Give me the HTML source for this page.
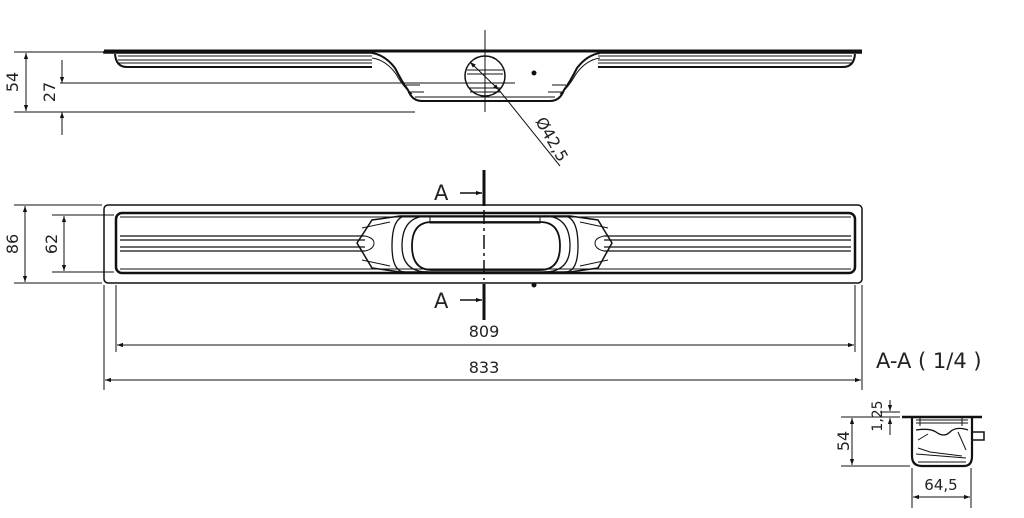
<!DOCTYPE html>
<html><head><meta charset="utf-8"><style>
html,body{margin:0;padding:0;background:#fff;}
svg{display:block;}
text{font-family:"DejaVu Sans","Liberation Sans",sans-serif;fill:#222;}
</style></head><body>
<svg width="1024" height="518" viewBox="0 0 1024 518" xmlns="http://www.w3.org/2000/svg">
<defs>
<marker id="ar" viewBox="0 0 10 10" refX="10" refY="5" markerWidth="8" markerHeight="6" orient="auto-start-reverse" markerUnits="userSpaceOnUse"><path d="M0,1.5 L10,5 L0,8.5 Z" fill="#111"/></marker>
</defs>
<g fill="none" stroke="#111" stroke-width="1">
<!-- side elevation -->
<path d="M104,51 L862,51" stroke-width="3"/>
<path d="M104,51 L104,53 L372,53 M600,53 L862,53" stroke-width="1.5"/>
<path d="M115,54 Q116,67 127,67 L372,67" stroke-width="2"/>
<path d="M118,56 L372,56 M118,60 L372,60 M118,63 L372,63"/>
<path d="M855,54 Q854,67 843,67 L598,67" stroke-width="2"/>
<path d="M852,56 L598,56 M852,60 L598,60 M852,63 L598,63"/>
<path d="M372,53 Q385,55 395,68 Q402,82 408,90 Q412,101 422,101 L550,101 Q560,101 564,90 Q570,82 577,68 Q587,55 600,53" stroke-width="2"/>
<path d="M372,58 Q386,60 396,74 Q404,88 412,94 M600,58 Q586,60 576,74 Q568,88 560,94"/>
<path d="M410,92 L424,92 M406,85 L420,85 M562,92 L548,92 M566,85 L552,85 M415,97 L555,97"/>
<circle cx="485" cy="76" r="20" stroke-width="1.5"/>
<path d="M467,70 L503,70 M467,74 L503,74 M469,88 L501,88 M470,92 L500,92"/>
<circle cx="534" cy="73" r="2" fill="#111"/>
<path d="M485,30 L485,112"/>
<!-- dims side -->
<path d="M14,52 L110,52 M14,112 L415,112 M60,83 L515,83"/>
<path d="M26,53 L26,111" marker-start="url(#ar)" marker-end="url(#ar)"/>
<path d="M62,60 L62,83" marker-end="url(#ar)"/>
<path d="M62,135 L62,112" marker-end="url(#ar)"/>
<path d="M470,62 L499,90" marker-start="url(#ar)" marker-end="url(#ar)"/>
<path d="M499,90 L560,166"/>
<!-- plan view -->
<rect x="104" y="205" width="758" height="78" rx="4" stroke-width="1.5"/>
<rect x="116" y="213" width="739" height="60" rx="6" stroke-width="2.5"/>
<path d="M120,217 L851,217 M120,269 L851,269"/>
<path d="M120,236 L365,236 M120,240 L365,240 M120,247 L365,247 M120,251 L365,251" stroke-width="1.3"/>
<path d="M604,236 L851,236 M604,240 L851,240 M604,247 L851,247 M604,251 L851,251" stroke-width="1.3"/>
<path d="M365,236 Q374,238 374,243 Q374,249 365,251 M604,236 Q595,238 595,243 Q595,249 604,251"/>
<path d="M357,243 L372,220 L400,216 L570,216 L598,220 L612,243 L598,268 L570,272 L400,272 L372,268 Z" stroke-width="1.5"/>
<path d="M412,246 Q412,222 432,222 L540,222 Q560,222 560,246 Q560,270 540,270 L432,270 Q412,270 412,246 Z" stroke-width="1.8"/>
<path d="M402,246 Q402,216 428,216 M402,246 Q402,272 428,272 M570,246 Q570,216 544,216 M570,246 Q570,272 544,272" stroke-width="1.3"/>
<path d="M392,246 Q392,218 405,216 M392,246 Q392,272 405,272 M578,246 Q578,218 565,216 M578,246 Q578,272 565,272" stroke-width="1.3"/>
<path d="M362,228 L390,222 M362,260 L390,266 M608,228 L580,222 M608,260 L580,266"/>
<path d="M430,216 L430,223 L540,223 L540,216"/>
<circle cx="534" cy="285" r="2" fill="#111"/>
<path d="M484,170 L484,206 M484,284 L484,320" stroke-width="3"/>
<path d="M484,210 L484,280" stroke-dasharray="14,4,3,4" stroke-width="1.5"/>
<path d="M460,193 L482,193" stroke-width="1.5" marker-end="url(#ar)"/>
<path d="M460,300 L482,300" stroke-width="1.5" marker-end="url(#ar)"/>
<!-- plan dims -->
<path d="M14,205 L102,205 M14,283 L102,283 M52,215 L114,215 M52,272 L114,272"/>
<path d="M25,206 L25,282" marker-start="url(#ar)" marker-end="url(#ar)"/>
<path d="M64,216 L64,271" marker-start="url(#ar)" marker-end="url(#ar)"/>
<path d="M116,285 L116,352 M855,285 L855,352 M104,285 L104,390 M862,285 L862,390"/>
<path d="M117,345 L854,345" marker-start="url(#ar)" marker-end="url(#ar)"/>
<path d="M105,380 L861,380" marker-start="url(#ar)" marker-end="url(#ar)"/>
<!-- section -->
<path d="M902,417 L982,417" stroke-width="2.5"/>
<path d="M912,418 L912,456 Q912,466 922,466 L964,466 Q972,466 972,456 L972,418" stroke-width="2.2"/>
<path d="M916,420 L968,420 M916,423 L968,423 M920,418 L920,426 M962,418 L962,426"/>
<path d="M916,430 Q930,428 936,432 Q944,438 950,432 Q956,426 968,430" stroke-width="1.3"/>
<path d="M918,440 L928,434 M918,448 L930,452 L962,456 M958,432 L966,450 M916,454 L966,458 M918,462 L966,462"/>
<path d="M972,432 L984,432 L984,440 L972,440" stroke-width="1.5"/>
<path d="M841,417 L900,417 M841,466 L910,466 M880,412 L900,412"/>
<path d="M852,418 L852,465" marker-start="url(#ar)" marker-end="url(#ar)"/>
<path d="M890,400 L890,411" marker-end="url(#ar)"/>
<path d="M890,435 L890,418" marker-end="url(#ar)"/>
<path d="M912,468 L912,508 M971,468 L971,508"/>
<path d="M913,497 L970,497" marker-start="url(#ar)" marker-end="url(#ar)"/>
</g>
<g font-size="16">
<text transform="translate(18,82) rotate(-90)" text-anchor="middle">54</text>
<text transform="translate(55,92) rotate(-90)" text-anchor="middle">27</text>
<text transform="translate(547,142) rotate(60)" text-anchor="middle">Ø42,5</text>
<text transform="translate(18,244) rotate(-90)" text-anchor="middle">86</text>
<text transform="translate(57,244) rotate(-90)" text-anchor="middle">62</text>
<text x="484" y="337" text-anchor="middle">809</text>
<text x="484" y="373" text-anchor="middle">833</text>
<text transform="translate(849,441) rotate(-90)" text-anchor="middle">54</text>
<text transform="translate(882,416) rotate(-90)" text-anchor="middle" font-size="14">1,25</text>
<text x="941" y="490" text-anchor="middle" font-size="15">64,5</text>
</g>
<text x="434" y="200" font-size="21">A</text>
<text x="434" y="308" font-size="21">A</text>
<text x="876" y="368" font-size="21">A-A ( 1/4 )</text>
</svg>
</body></html>
